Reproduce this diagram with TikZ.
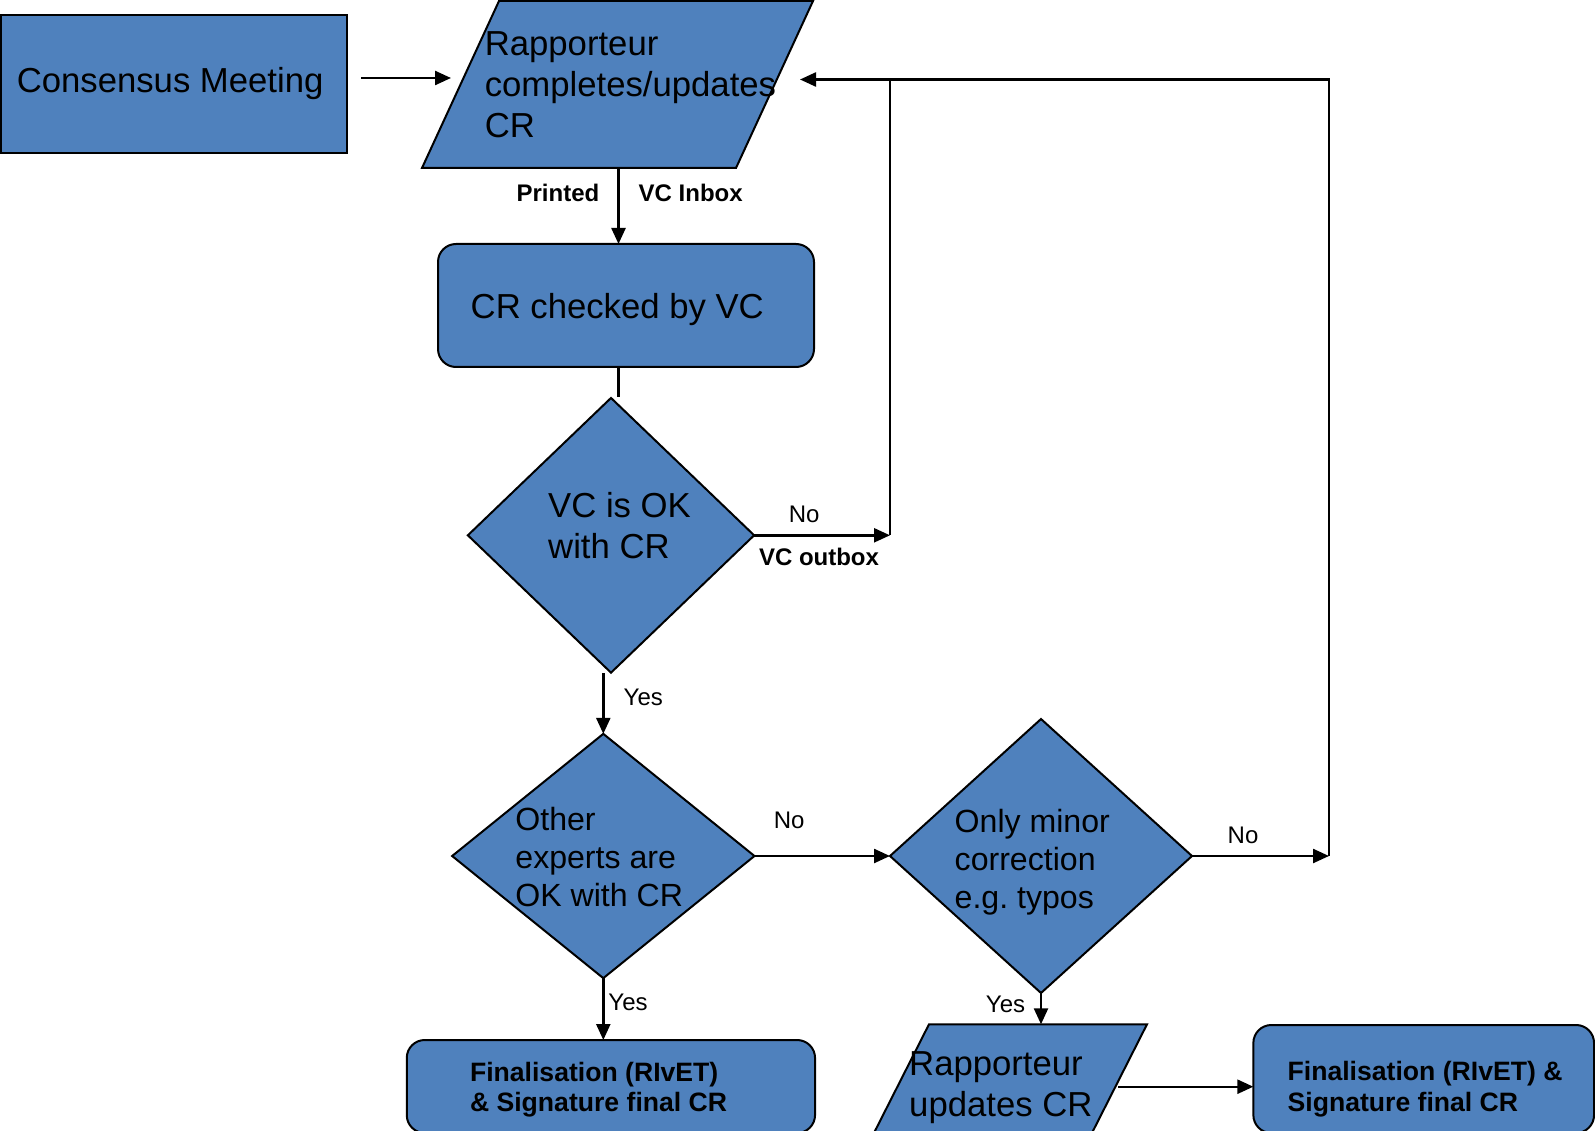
\documentclass[tikz,border=0pt]{standalone}
\usepackage{fontspec}
\setmainfont{Liberation Sans}
\usetikzlibrary{shapes.geometric,arrows.meta,calc}
\definecolor{boxblue}{RGB}{79,129,189}
\begin{document}
\begin{tikzpicture}[x=1pt,y=-1pt,
  shp/.style={fill=boxblue,draw=black,line width=2pt},
  conn/.style={line width=2.4pt,draw=black},
  arr/.style={conn,-{Triangle[length=16pt,width=14pt]}},
  bigtxt/.style={font=\fontsize{34.7}{41}\selectfont,inner sep=0pt,align=left},
  midtxt/.style={font=\fontsize{32.1}{38}\selectfont,inner sep=0pt,align=left},
  boldtxt/.style={font=\bfseries\fontsize{26.6}{30.5}\selectfont,inner sep=0pt,align=left},
  lbl/.style={font=\fontsize{24}{28}\selectfont,inner sep=0pt},
  blbl/.style={font=\bfseries\fontsize{24}{28}\selectfont,inner sep=0pt},
  diam/.style={shp,diamond,aspect=1,inner sep=0pt,outer sep=0pt},
  rbox/.style={shp,rectangle,rounded corners=18pt,inner sep=0pt,outer sep=0pt},
  frame/.style={rectangle,inner sep=0pt,outer sep=0pt},
]
\useasboundingbox (0,0) rectangle (1595,1131);

% shapes
\node[shp,frame,minimum width=346pt,minimum height=137.5pt] (cm) at (174,84) {};
\node[frame,minimum width=391pt,minimum height=167pt] (p1) at (617.5,84.5) {};
\path[shp] ([xshift=77pt]p1.north west) -- (p1.north east) -- ([xshift=-77pt]p1.south east) -- (p1.south west) -- cycle;
\node[rbox,minimum width=376pt,minimum height=123pt] (cr) at (626,305.5) {};
\node[diam,minimum width=286.3pt,minimum height=274.7pt] (d1) at (611,535.3) {};
\node[diam,minimum width=302.3pt,minimum height=244.3pt] (d2) at (603.3,856) {};
\node[diam,minimum width=302pt,minimum height=274pt] (d3) at (1041,856) {};
\node[frame,minimum width=276.6pt,minimum height=115.7pt] (p2) at (1008.7,1082.15) {};
\path[shp] ([xshift=58.6pt]p2.north west) -- (p2.north east) -- ([xshift=-58.6pt]p2.south east) -- (p2.south west) -- cycle;
\node[rbox,minimum width=408.3pt,minimum height=93pt] (f1) at (610.9,1086.5) {};
\node[rbox,minimum width=340.7pt,minimum height=108pt] (f2) at (1423.7,1079) {};

% texts
\node[bigtxt,anchor=base west] (tcm) at (16.6,93) {Consensus Meeting};
\node[bigtxt,anchor=west] (tp1) at (484.6,84.35) {Rapporteur\\completes/updates\\CR};
\node[bigtxt,anchor=base west] (tcr) at (470.5,318.5) {CR checked by VC};
\node[bigtxt,anchor=west] (td1) at (548,525.6) {VC is OK\\with CR};
\node[midtxt,anchor=west] (td2) at (515.2,856.85) {Other\\experts are\\OK with CR};
\node[midtxt,anchor=west] (td3) at (954.5,862.65) {Only minor\\correction\\e.g.\ typos};
\node[bigtxt,anchor=west] (tp2) at (909,1087.9) {Rapporteur\\updates CR};
\node[boldtxt,anchor=west] (tf1) at (469.8,1089.5) {Finalisation (RIvET)\\\& Signature final CR};
\node[boldtxt,anchor=west] (tf2) at (1287.4,1089) {Finalisation (RIvET) \&\\Signature final CR};

% labels
\node[blbl,anchor=base east] (lprint) at (599.5,201.5) {Printed};
\node[blbl,anchor=base west] (linbox) at (638.5,201.5) {VC Inbox};
\node[lbl,anchor=base] (lno1) at (804.2,522.5) {No};
\node[blbl,anchor=base] (lout) at (819,565) {VC outbox};
\node[lbl,anchor=base] (lyes1) at (643.3,705) {Yes};
\node[lbl,anchor=base] (lno2) at (789.2,828.3) {No};
\node[lbl,anchor=base] (lyes2) at (628,1010) {Yes};
\node[lbl,anchor=base] (lno3) at (1243,843.3) {No};
\node[lbl,anchor=base] (lyes3) at (1005.5,1012.7) {Yes};

% connectors
\coordinate (a1s) at (361,78);
\coordinate (a1e) at (451,78);
\draw[arr] (a1s) -- (a1e);
\coordinate (p1b) at (618.5,168);
\draw[arr] (p1b) -- (p1b |- cr.north);
\coordinate (crb) at (618.5,367);
\coordinate (crl) at (618.5,397);
\draw[conn] (crb) -- (crl);
\coordinate (j1) at (890,535.3);
\coordinate (j1t) at (890,79.5);
\draw[arr] (d1.east) -- (j1);
\draw[conn] (j1) -- (j1t);
\coordinate (j2) at (1329,856);
\coordinate (j2t) at (1329,79.5);
\coordinate (p1in) at (800,79.5);
\draw[arr] (d3.east) -- (j2);
\draw[arr] (j2) -- (j2t) -- (p1in);
\coordinate (y1s) at (603.3,673);
\draw[arr] (y1s) -- (d2.north);
\draw[arr] (d2.east) -- (d3.west);
\draw[arr] (d2.south) -- (d2.south |- f1.north);
\draw[arr] (d3.south) -- (d3.south |- p2.north);
\coordinate (p2r) at (1118,1086.7);
\draw[arr] (p2r) -- (p2r -| f2.west);
\end{tikzpicture}
\end{document}
